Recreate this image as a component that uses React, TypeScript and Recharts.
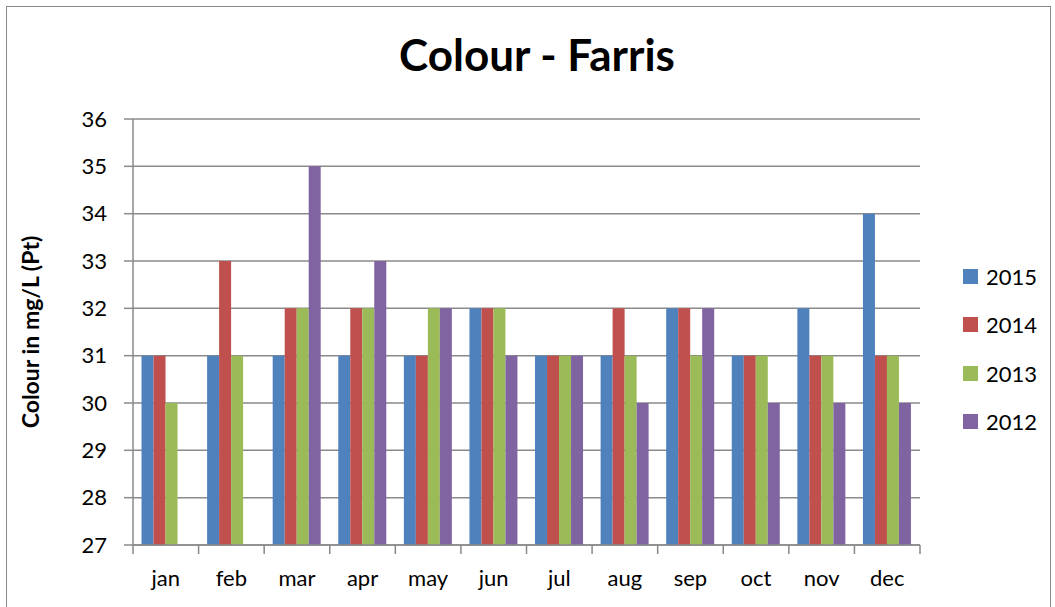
import { BarChart, Bar, XAxis, YAxis, CartesianGrid } from 'recharts';

const months = ['jan', 'feb', 'mar', 'apr', 'may', 'jun', 'jul', 'aug', 'sep', 'oct', 'nov', 'dec'];
const y2015 = [31, 31, 31, 31, 31, 32, 31, 31, 32, 31, 32, 34];
const y2014 = [31, 33, 32, 32, 31, 32, 31, 32, 32, 31, 31, 31];
const y2013 = [30, 31, 32, 32, 32, 32, 31, 31, 31, 31, 31, 31];
const y2012 = [null, null, 35, 33, 32, 31, 31, 30, 32, 30, 30, 30];
const yTicks = [27, 28, 29, 30, 31, 32, 33, 34, 35, 36];

const series = [
  { key: '2015', color: '#4F81BD' },
  { key: '2014', color: '#C0504D' },
  { key: '2013', color: '#9BBB59' },
  { key: '2012', color: '#8064A2' },
];

const data = months.map((m, i) => ({
  month: m,
  '2015': y2015[i],
  '2014': y2014[i],
  '2013': y2013[i],
  '2012': y2012[i],
}));

const FONT = 'Lato, "Open Sans", sans-serif';
const W = 1055;
const H = 607;
const Y_AXIS_W = 50;
const X_AXIS_H = 30;
const margin = { top: 119, right: 135, bottom: 62 - X_AXIS_H, left: 133 - Y_AXIS_W };
const step = (W - 133 - margin.right) / months.length;

function MonthTick(props: any) {
  const { x, y, payload, index } = props;
  return (
    <g>
      <line x1={x - step / 2} y1={y - 8} x2={x - step / 2} y2={y + 1} stroke="#888" strokeWidth={1.5} />
      {index === months.length - 1 && (
        <line x1={x + step / 2} y1={y - 8} x2={x + step / 2} y2={y + 1} stroke="#888" strokeWidth={1.5} />
      )}
      <text x={x} y={y + 33} textAnchor="middle" fontSize={22} fill="#000" fontFamily={FONT}>
        {payload.value}
      </text>
    </g>
  );
}

function LegendBox() {
  return (
    <div style={{ position: 'absolute', left: 963, top: 252, fontFamily: FONT }}>
      {series.map((s) => (
        <div key={s.key} style={{ display: 'flex', alignItems: 'center', height: 48.5 }}>
          <span style={{ width: 15, height: 15, background: s.color, marginRight: 8 }} />
          <span style={{ fontSize: 22, color: '#000' }}>{s.key}</span>
        </div>
      ))}
    </div>
  );
}

export default function App() {
  return (
    <div style={{ position: 'absolute', left: 0, top: 0, width: W, height: H, background: '#fff', overflow: 'hidden' }}>
      <div
        style={{
          position: 'absolute',
          left: 6,
          top: 6,
          width: 1043,
          height: 620,
          border: '1.5px solid #8a8a8a',
        }}
      />
      <div
        style={{
          position: 'absolute',
          left: 0,
          width: 1074,
          top: 28,
          textAlign: 'center',
          fontFamily: FONT,
          fontWeight: 'bold',
          fontSize: 44,
          color: '#000',
        }}
      >
        Colour - Farris
      </div>
      <div style={{ position: 'absolute', left: 0, top: 0 }}>
        <BarChart width={W} height={H} data={data} margin={margin} barGap={0} barCategoryGap="13%">
          <CartesianGrid vertical={false} stroke="#8a8a8a" strokeWidth={1.5} />
          <XAxis
            dataKey="month"
            height={X_AXIS_H}
            axisLine={{ stroke: '#8a8a8a', strokeWidth: 1.5 }}
            tickLine={false}
            tick={<MonthTick />}
            interval={0}
          />
          <YAxis
            width={Y_AXIS_W}
            domain={[27, 36]}
            ticks={yTicks}
            interval={0}
            axisLine={{ stroke: '#8a8a8a', strokeWidth: 1.5 }}
            tickLine={{ stroke: '#8a8a8a', strokeWidth: 1.5 }}
            tickSize={9}
            tickMargin={17}
            tick={{ fontSize: 22, fill: '#000', fontFamily: FONT }}
            label={{
              value: 'Colour in mg/L (Pt)',
              angle: -90,
              position: 'insideLeft',
              offset: -52,
              style: { fontSize: 23, fontWeight: 'bold', fill: '#000', fontFamily: FONT, textAnchor: 'middle' },
            }}
          />
          {series.map((s) => (
            <Bar key={s.key} dataKey={s.key} fill={s.color} isAnimationActive={false} />
          ))}
        </BarChart>
      </div>
      <LegendBox />
    </div>
  );
}
